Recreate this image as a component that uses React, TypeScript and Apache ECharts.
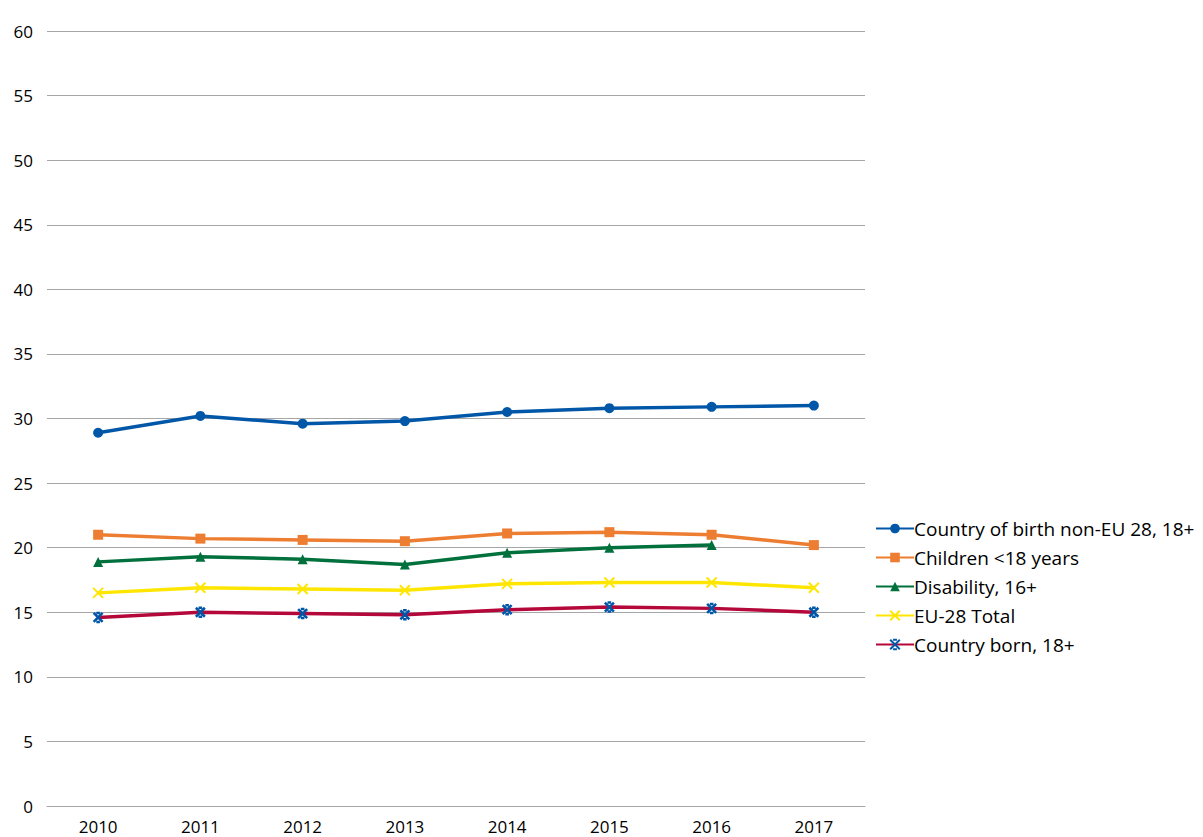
import React, { useEffect, useRef } from "react";
import * as echarts from "echarts";

const years = ["2010", "2011", "2012", "2013", "2014", "2015", "2016", "2017"];
const nonEU = [28.9, 30.2, 29.6, 29.8, 30.5, 30.8, 30.9, 31.0];
const children = [21.0, 20.7, 20.6, 20.5, 21.1, 21.2, 21.0, 20.2];
const disability = [18.9, 19.3, 19.1, 18.7, 19.6, 20.0, 20.2, null];
const eu28 = [16.5, 16.9, 16.8, 16.7, 17.2, 17.3, 17.3, 16.9];
const countryBorn = [14.6, 15.0, 14.9, 14.8, 15.2, 15.4, 15.3, 15.0];

const FONT = "Open Sans";

export default function App() {
  const ref = useRef<HTMLDivElement>(null);
  useEffect(() => {
    if (!ref.current) return;
    const chart = echarts.init(ref.current, null, { renderer: "svg" });
    const xPath = "path://M0,0L10,10M10,0L0,10";
    const starPath = "path://M0,0L10,10M10,0L0,10M3,0L7,0M3,10L7,10";
    chart.setOption({
      animation: false,
      grid: { left: 47, right: 338, top: 31, bottom: 31, containLabel: false },
      legend: {
        orient: "vertical",
        left: 870,
        top: 514,
        itemWidth: 38,
        itemHeight: 12,
        itemGap: 10,
        textStyle: { fontFamily: FONT, fontSize: 19, color: "#000", padding: [0, 0, 0, -5] },
        data: [
          "Country of birth non-EU 28, 18+",
          "Children <18 years",
          "Disability, 16+",
          "EU-28 Total",
          "Country born, 18+",
        ],
      },
      xAxis: {
        type: "category",
        data: years,
        boundaryGap: true,
        axisLine: { lineStyle: { color: "#a6a6a6", width: 1 } },
        axisTick: { show: false },
        axisLabel: { fontFamily: FONT, fontSize: 17, color: "#000", margin: 12 },
      },
      yAxis: {
        type: "value",
        min: 0,
        max: 60,
        interval: 5,
        axisLine: { show: false },
        axisTick: { show: false },
        splitLine: { lineStyle: { color: "#a6a6a6", width: 1 } },
        axisLabel: { fontFamily: FONT, fontSize: 17, color: "#000", margin: 14 },
      },
      series: [
        {
          name: "Country of birth non-EU 28, 18+",
          type: "line",
          data: nonEU,
          symbol: "circle",
          symbolSize: 10,
          lineStyle: { color: "#0057a8", width: 3.5 },
          itemStyle: { color: "#0057a8" },
        },
        {
          name: "Children <18 years",
          type: "line",
          data: children,
          symbol: "rect",
          symbolSize: 10,
          lineStyle: { color: "#ed7d31", width: 3.5 },
          itemStyle: { color: "#ed7d31" },
        },
        {
          name: "Disability, 16+",
          type: "line",
          data: disability,
          symbol: "triangle",
          symbolSize: 10,
          lineStyle: { color: "#00703c", width: 3.5 },
          itemStyle: { color: "#00703c" },
        },
        {
          name: "EU-28 Total",
          type: "line",
          data: eu28,
          symbol: xPath,
          symbolSize: 10,
          lineStyle: { color: "#ffe600", width: 3.5 },
          itemStyle: { color: "#ffe600", borderColor: "#ffe600", borderWidth: 2 },
        },
        {
          name: "Country born, 18+",
          type: "line",
          data: countryBorn,
          symbol: starPath,
          symbolSize: 9,
          lineStyle: { color: "#b5083a", width: 3.5 },
          itemStyle: { color: "#0057a8", borderColor: "#0057a8", borderWidth: 2.5 },
        },
      ],
    });
    return () => chart.dispose();
  }, []);
  return <div ref={ref} style={{ width: 1203, height: 837, position: "absolute", left: 0, top: 0 }} />;
}
